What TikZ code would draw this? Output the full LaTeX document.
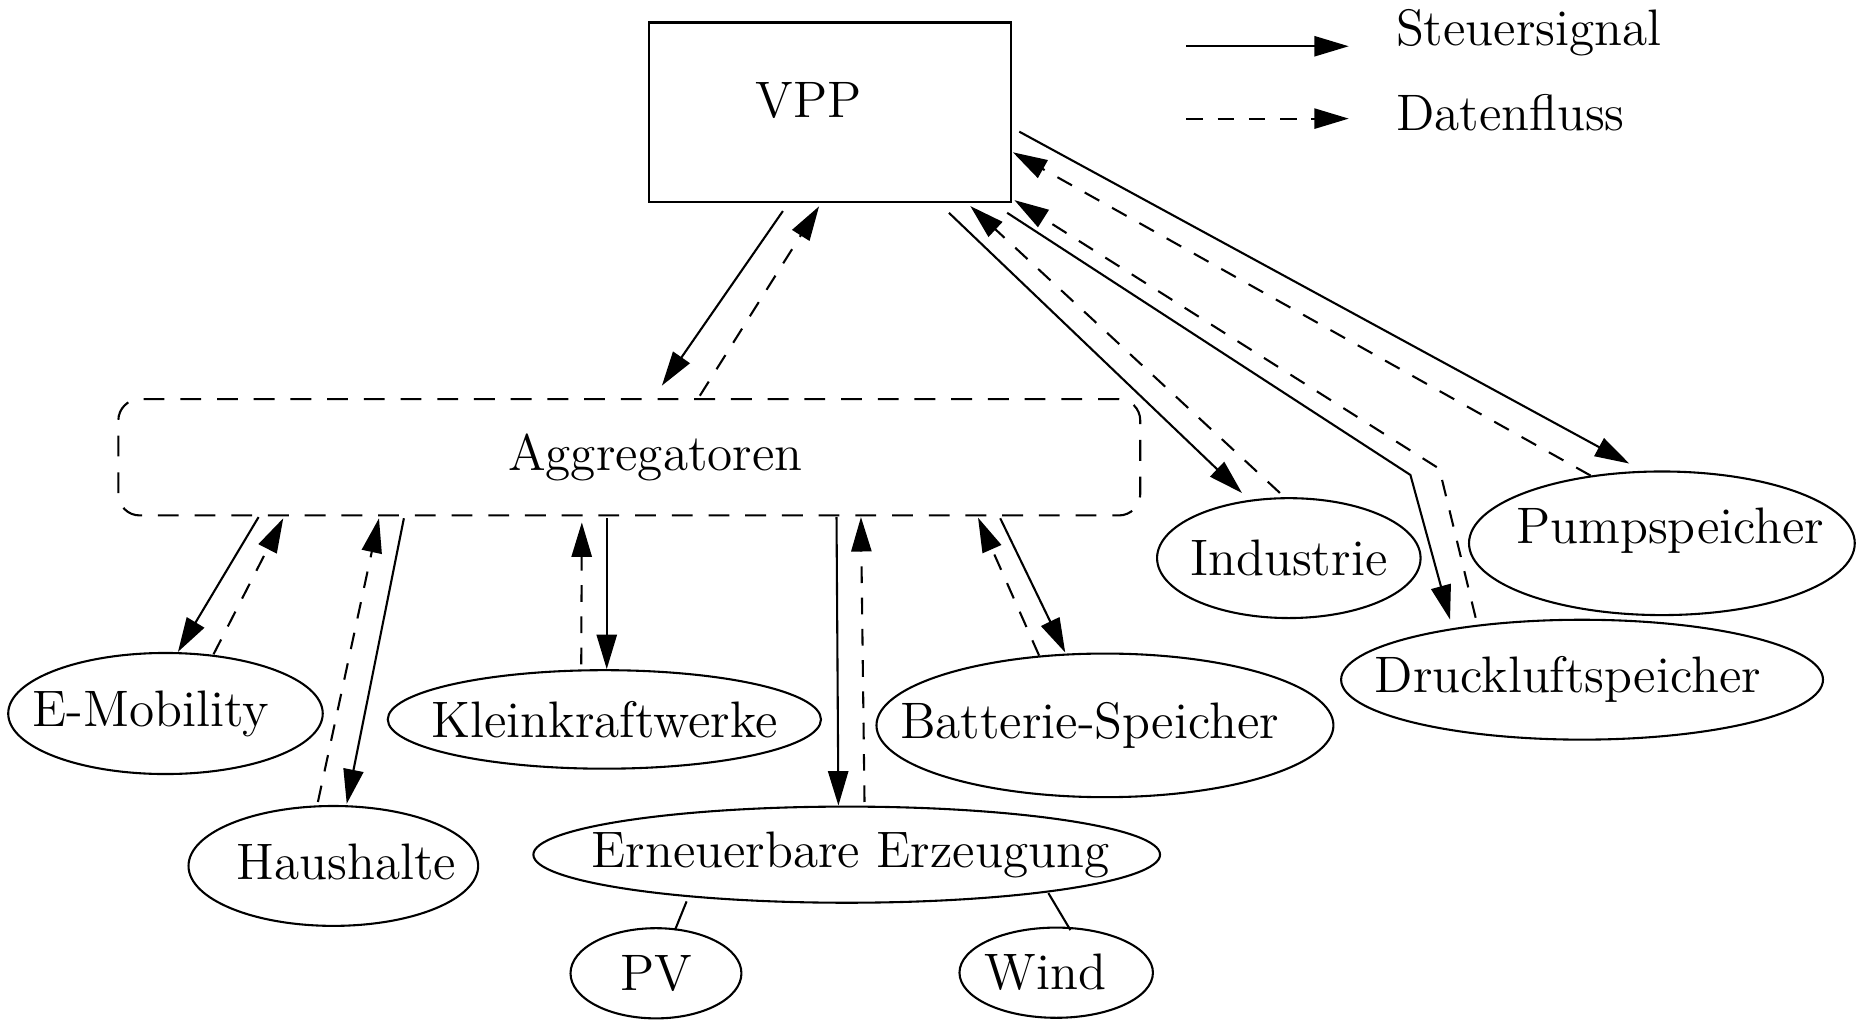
\documentclass[tikz,border=0pt]{standalone}
\usepackage{tikz}
\usetikzlibrary{arrows.meta,shapes.geometric}

\begin{document}
\begin{tikzpicture}[x=0.01cm,y=-0.01cm,line width=0.5pt,font=\fontsize{12.3}{14}\selectfont,
  >={Triangle[length=2.9mm,width=1.7mm]},
  ctrl/.style={->},
  data/.style={->,dash pattern=on 4pt off 3.5pt},
  feld/.style={draw,ellipse,inner sep=0pt}]
  \useasboundingbox (0,0) rectangle (1568,861);
  % VPP und Aggregatoren
  \node[draw,minimum width=3.05cm,minimum height=1.51cm,
    label={[xshift=-0.18cm,yshift=0.1cm]center:VPP}] (vpp) at (700,94.5) {};
  \node[draw,rounded corners=0.18cm,dash pattern=on 5pt off 3.8pt,
    minimum width=8.61cm,minimum height=0.98cm,
    label={[xshift=0.22cm]center:Aggregatoren}] (agg) at (530.5,385.5) {};
  % Teilnehmer
  \node[feld,minimum width=2.65cm,minimum height=1.02cm,label={[xshift=-0.125cm]center:E-Mobility}] (emob) at (139.5,601.5) {};
  \node[feld,minimum width=2.44cm,minimum height=1.01cm,label={[xshift=0.11cm,yshift=0.03cm]center:Haushalte}] (haus) at (281,730) {};
  \node[feld,minimum width=3.65cm,minimum height=0.83cm,label=center:Kleinkraftwerke] (klein) at (509.5,606.5) {};
  \node[feld,minimum width=3.85cm,minimum height=1.21cm,label={[xshift=-0.13cm]center:Batterie-Speicher}] (batt) at (931.5,611.5) {};
  \node[feld,minimum width=5.28cm,minimum height=0.81cm,label={[xshift=0.03cm]center:Erneuerbare Erzeugung}] (erneu) at (713.8,720.5) {};
  \node[feld,minimum width=1.44cm,minimum height=0.76cm,label=center:PV] (pv) at (553,820.5) {};
  \node[feld,minimum width=1.63cm,minimum height=0.76cm,label={[xshift=-0.09cm]center:Wind}] (wind) at (890.4,820) {};
  \node[feld,minimum width=2.22cm,minimum height=1.01cm,label=center:Industrie] (indu) at (1086.5,470.5) {};
  \node[feld,minimum width=3.25cm,minimum height=1.21cm,label={[xshift=0.07cm,yshift=0.11cm]center:Pumpspeicher}] (pump) at (1401,458) {};
  \node[feld,minimum width=4.06cm,minimum height=1.01cm,label={[xshift=-0.12cm]center:Druckluftspeicher}] (druck) at (1333.7,573) {};
  % Legende
  \coordinate (ls1) at (1000,39);
  \coordinate (ls2) at (1137,39);
  \coordinate (ld1) at (1000,100);
  \coordinate (ld2) at (1137,100);
  \draw[ctrl] (ls1) -- (ls2);
  \draw[data] (ld1) -- (ld2);
  \node[anchor=base west,inner sep=0pt] (steuer) at (1176,38) {Steuersignal};
  \node[anchor=base west,inner sep=0pt] (daten) at (1176,110) {Datenfluss};
  % VPP <-> Aggregatoren
  \draw[ctrl] ([shift={(-40,7)}]vpp.south) -- ([shift={(27.5,-10.5)}]agg.north);
  \draw[data] ([shift={(59.5,-2)}]agg.north) -- ([shift={(-9.5,3)}]vpp.south);
  % Aggregatoren <-> Teilnehmer
  \draw[ctrl] ([shift={(-312.5,0.5)}]agg.south) -- ([shift={(10.5,0)}]emob.north);
  \draw[data] ([shift={(40.5,2)}]emob.north) -- ([shift={(-291.7,1.5)}]agg.south);
  \draw[data] ([shift={(-13,-2.5)}]haus.north) -- ([shift={(-211,1.5)}]agg.south);
  \draw[ctrl] ([shift={(-190,1.5)}]agg.south) -- ([shift={(11.3,-1)}]haus.north);
  \draw[data] ([shift={(-19.5,-4)}]klein.north) -- ([shift={(-40,5)}]agg.south);
  \draw[ctrl] ([shift={(-19,1.5)}]agg.south) -- ([shift={(2,0)}]klein.north);
  \draw[ctrl] ([shift={(174.7,0.5)}]agg.south) -- ([shift={(-7,0)}]erneu.north);
  \draw[data] ([shift={(15,-3)}]erneu.north) -- ([shift={(195.3,0.5)}]agg.south);
  \draw[data] ([shift={(-55.5,2.6)}]batt.north) -- ([shift={(294,1)}]agg.south);
  \draw[ctrl] ([shift={(312.7,1.5)}]agg.south) -- ([shift={(-33.5,0)}]batt.north);
  % VPP <-> Grossanlagen
  \coordinate (knickS) at (1189,400.4);
  \coordinate (knickD) at (1213.4,395.2);
  \draw[ctrl] ([shift={(-53.5,8.5)}]vpp.south east) -- ([shift={(-39.5,-3.5)}]indu.north);
  \draw[data] ([shift={(-7.5,-3.5)}]indu.north) -- ([shift={(-35.5,2.8)}]vpp.south east);
  \draw[ctrl] ([shift={(-4.4,8.5)}]vpp.south east) -- (knickS) -- ([shift={(-111.3,0.7)}]druck.north);
  \draw[data] ([shift={(-89.7,-0.8)}]druck.north) -- (knickD) -- ([shift={(1.7,-2.2)}]vpp.south east);
  \draw[ctrl] ([shift={(5.8,16.5)}]vpp.east) -- ([shift={(-27.5,-5.8)}]pump.north);
  \draw[data] ([shift={(-60,4.4)}]pump.north) -- ([shift={(0.4,33.9)}]vpp.east);
  % Erzeugungsarten
  \draw ([shift={(-135,-2)}]erneu.south) -- ([shift={(16,2.5)}]pv.north);
  \draw ([shift={(170,-9)}]erneu.south) -- ([shift={(12,3)}]wind.north);
\end{tikzpicture}
\end{document}
